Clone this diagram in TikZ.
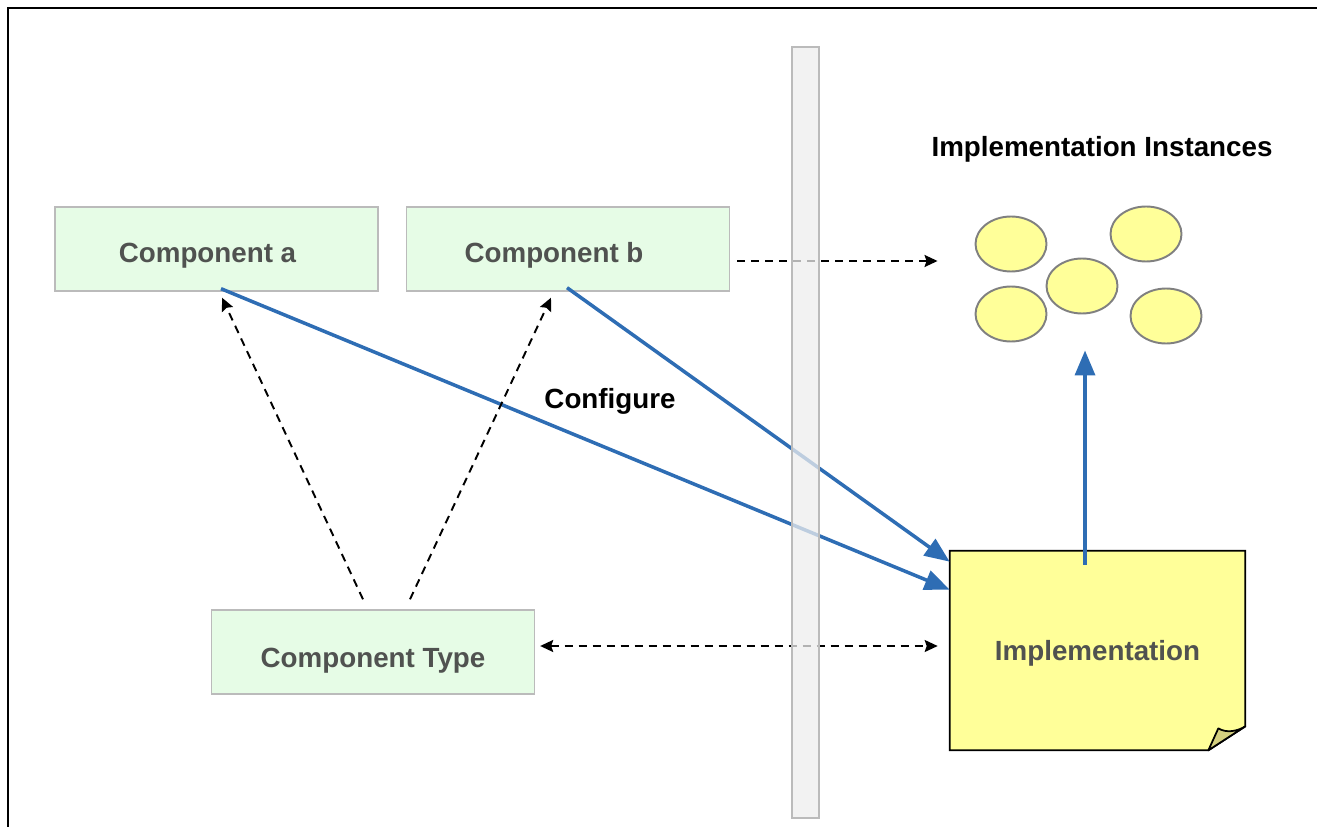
\documentclass[tikz,border=0pt]{standalone}
\usepackage{fontspec}
\setmainfont{Liberation Sans}
\usetikzlibrary{arrows.meta,calc,shapes.geometric}
\pgfdeclarelayer{background}
\pgfsetlayers{background,main}

\definecolor{compfill}{RGB}{230,252,230}
\definecolor{compline}{RGB}{187,187,187}
\definecolor{comptext}{RGB}{80,82,80}
\definecolor{notefill}{RGB}{255,255,153}
\definecolor{foldfill}{RGB}{212,208,128}
\definecolor{linkblue}{RGB}{46,109,180}
\definecolor{wallfill}{RGB}{238,238,238}

\begin{document}
\begin{tikzpicture}[x=0.02cm,y=-0.02cm]
        % Estilos
        \tikzset{
            comp/.style={draw=compline, fill=compfill, line width=0.8pt, minimum width=6.46cm,
                minimum height=1.68cm, inner sep=0pt},
            comptxt/.style={text=comptext, font=\bfseries\fontsize{15.8}{19}\selectfont},
            inst/.style={ellipse, draw=gray, fill=notefill, line width=1.1pt,
                minimum width=1.42cm, minimum height=1.1cm, inner sep=0pt},
            config/.style={-{Triangle[length=0.5cm,width=0.4cm]}, linkblue, line width=2pt},
            uses/.style={dash pattern=on 0.16cm off 0.12cm, line width=1.1pt,
                >={Stealth[length=0.26cm,width=0.24cm,inset=0.04cm]}},
            caption/.style={font=\bfseries\fontsize{15.8}{19}\selectfont}
        }
        \useasboundingbox (0,0) rectangle (1317,827);

        % --- MARCO ---
        \draw[line width=1.1pt] (1317,8) -- (8,8) -- (8,827);

        % --- COMPONENTES ---
        \node[comp, label={[comptxt, xshift=-0.18cm, yshift=-0.13cm]center:Component a}] (ca) at (216.5,249) {};
        \node[comp, label={[comptxt, xshift=-0.28cm, yshift=-0.13cm]center:Component b}] (cb) at (568,249) {};
        \node[comp, label={[comptxt, yshift=-0.18cm]center:Component Type}] (ct) at (373,652) {};

        % --- IMPLEMENTACION (nota) ---
        \node[minimum width=5.9cm, minimum height=3.98cm, inner sep=0pt,
            label={[comptxt, yshift=-0.06cm]center:Implementation}] (impl) at (1097.5,650.5) {};
        \begin{pgfonlayer}{background}
            \draw[fill=notefill, line width=1pt] (impl.north west) -- (impl.north east)
                -- ($(impl.south east)+(0,-24)$) -- ($(impl.south east)+(-37,0)$)
                -- (impl.south west) -- cycle;
        \end{pgfonlayer}
        \draw[fill=foldfill, line width=1pt, line join=round] ($(impl.south east)+(-37,0)$)
            -- ($(impl.south east)+(-27,-22)$)
            .. controls ($(impl.south east)+(-19,-17)$) and ($(impl.south east)+(-8,-19)$)
            .. ($(impl.south east)+(0,-24)$) -- cycle;

        % --- INSTANCIAS ---
        \node[inst] (i1) at (1011,244) {};
        \node[inst] (i2) at (1146,234) {};
        \node[inst] (i3) at (1082,286) {};
        \node[inst] (i4) at (1011,314) {};
        \node[inst] (i5) at (1166,316) {};
        \node[caption] (title) at (1102,149.5) {Implementation Instances};
        \node[caption] (cfg) at (610,401) {Configure};

        % --- CONEXIONES ---
        \draw[config] ($(ca.south)+(4.5,-3)$) -- ($(impl.north west)+(0,39)$);
        \draw[config] ($(cb.south)+(-1,-4)$) -- ($(impl.north west)+(0,11)$);
        \draw[config] ($(impl.north)+(-12.5,14)$) -- ($(i3.south)+(3,36)$);

        \draw[uses, ->] ($(ct.north)+(-10,-10)$) -- ($(ca.south)+(5.5,6)$);
        \draw[uses, ->] ($(ct.north)+(37,-10)$) -- ($(cb.south)+(-17,6)$);
        \draw[uses, ->] ($(cb.east)+(7,12)$) -- ($(i1.west)+(-37,17)$);
        \draw[uses, <->] ($(ct.east)+(5,-6)$) -- ($(impl.west)+(-12,-4.5)$);

        % --- LIMITE ---
        \node[draw=compline, fill=wallfill, fill opacity=0.75, line width=0.9pt,
            minimum width=0.54cm, minimum height=15.42cm, inner sep=0pt] (wall) at (805.5,432.5) {};
    \end{tikzpicture}
\end{document}
